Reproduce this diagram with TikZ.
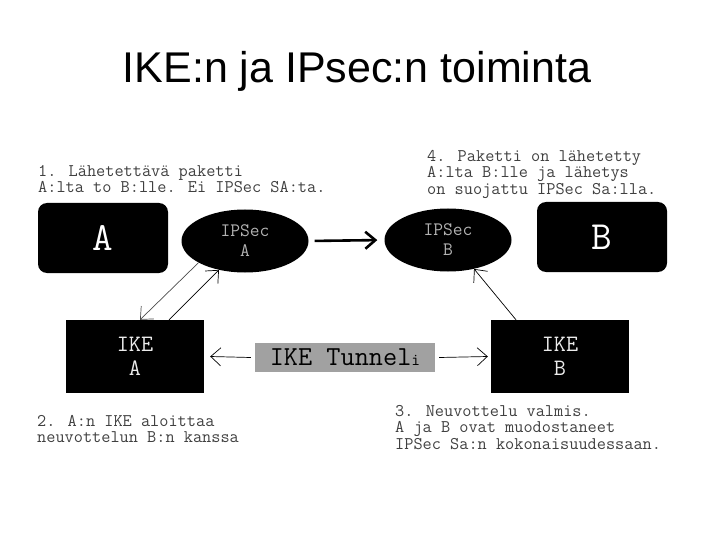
\documentclass[tikz,border=0pt]{standalone}
\usepackage{fontspec}
\setmainfont{Liberation Sans}
\usetikzlibrary{arrows.meta, shapes.geometric}

\tikzset{
    host/.style={rounded corners=9pt, fill=black, text=white, minimum width=130pt, minimum height=70pt,
        font=\ttfamily\fontsize{40}{40}\selectfont},
    ipsec/.style={ellipse, fill=black, text=black!30, minimum width=127pt, minimum height=63pt, align=center,
        font=\ttfamily\fontsize{19}{20}\selectfont},
    ike/.style={fill=black, text=black!8, minimum width=138pt, minimum height=73pt, align=center,
        font=\ttfamily\fontsize{23.5}{24}\selectfont},
    note/.style={anchor=north west, align=left, inner sep=0pt, text=black!75,
        font=\ttfamily\fontsize{17.8}{16.5}\selectfont},
    barb/.style={-{Straight Barb[length=10pt,width=18pt]}, line width=0.7pt},
}

\begin{document}
\begin{tikzpicture}[x=1pt, y=-1pt]
    \useasboundingbox (0,0) rectangle (720,540);
    \node (title) at (357,71) {\fontsize{43}{50}\selectfont IKE:n ja IPsec:n toiminta};

    % ylarivi
    \node[host] (A) at (103,238) {A};
    \node[host] (B) at (602,237) {B};
    \node[ipsec] (ipsecA) at (245,241) {IPSec\\A};
    \node[ipsec] (ipsecB) at (448,240) {IPSec\\B};

    % alarivi
    \node[ike] (ikeA) at (135,356.5) {IKE\\A};
    \node[ike] (ikeB) at (560,356.5) {IKE\\B};
    \node[fill=black!37, minimum width=180pt, minimum height=29pt,
          font=\ttfamily\fontsize{27.5}{24}\selectfont] (tunnel) at (345,357.5)
          {IKE Tunnel{\fontsize{17}{17}\selectfont i}};

    % selitteet
    \node[note] (n1) at (38,165) {1. Lähetettävä paketti\\A:lta to B:lle. Ei IPSec SA:ta.};
    \node[note] (n4) at (427,150) {4. Paketti on lähetetty\\A:lta B:lle ja lähetys\\on suojattu IPSec Sa:lla.};
    \node[note] (n2) at (37,415) {2. A:n IKE aloittaa\\neuvottelun B:n kanssa};
    \node[note] (n3) at (395,405) {3. Neuvottelu valmis.\\A ja B ovat muodostaneet\\IPSec Sa:n kokonaisuudessaan.};

    % nuolet
    \draw[-{Straight Barb[length=10pt,width=17pt]}, line width=2.6pt, shorten <=6pt, shorten >=7pt]
        (ipsecA.east) -- (ipsecB.west);
    \draw[barb, black!70] (ipsecA.205) -- ([xshift=5pt]ikeA.north);
    \draw[barb] ([xshift=34pt]ikeA.north) -- (ipsecA.228);
    \draw[barb] ([xshift=-44pt]ikeB.north) -- (ipsecB.312);
    \draw[barb] ([xshift=-4pt]tunnel.west) -- ([xshift=6pt]ikeA.east);
    \draw[barb] ([xshift=4pt]tunnel.east) -- ([xshift=-3pt]ikeB.west);
\end{tikzpicture}
\end{document}
